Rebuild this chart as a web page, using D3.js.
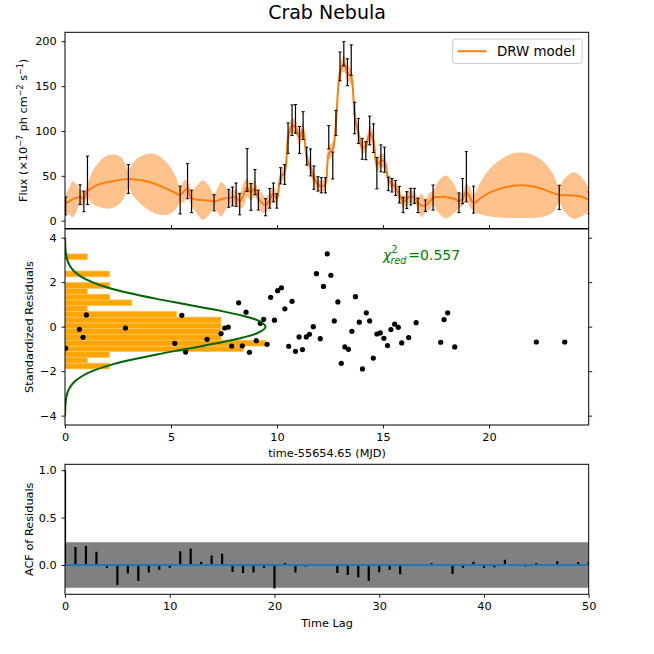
<!DOCTYPE html>
<html>
<head>
<meta charset="utf-8">
<script src="https://cdn.jsdelivr.net/npm/d3@7"></script>
<style>
  body { margin: 0; background: #fff; }
  svg { display: block; font-family: "DejaVu Sans", sans-serif; }
</style>
</head>
<body>
<svg id="chart" width="654" height="654"></svg>
<script>
// light curve points (time-55654.65, flux, 1 sigma error)
var fluxTime = [0.03,0.71,0.89,1.06,2.99,5.43,5.78,5.97,7.03,7.72,7.90,8.07,8.24,8.59,8.77,8.96,9.12,9.46,9.66,9.83,9.99,
    10.17,10.36,10.52,10.71,10.87,11.06,11.23,11.40,11.58,11.74,11.93,12.09,12.28,12.44,12.63,12.78,12.97,13.15,13.32,13.50,
    13.66,13.84,14.02,14.19,14.37,14.55,14.71,14.90,15.07,15.25,15.42,15.59,15.77,15.95,16.12,16.31,16.48,16.65,17.00,17.36,
    18.58,18.75,18.93,19.27,23.31,24.72]
var fluxVal = [16.5,29,21.5,45,46.5,23,44,21.5,20,25,27,29,18.5,56.5,26.5,43,23,15,25,31.5,22,
    50,51.5,92,112,113.5,90,106,72,65,48,41,39.5,39.5,93,61.5,109,172,186,165.5,179,
    114.5,100,80,78,100.5,92,53,69.5,68,41,39.5,36.5,29,17.5,23,26.8,27.7,17,16.6,25.8,
    20,33,49,23.5,26,20]
var fluxErr = [10,11,11.5,27,16,15.5,19.5,12.5,9,10,10.5,13,12,24,15,14,11,9.5,11,10.5,8,
    9,11,17,17,16,15,15.5,10,15,13,8,8.5,8.5,13,15,14,16,13.5,15,17,
    17.5,14,11.5,10,16,16,17.5,15,14,7.5,7.5,8.3,9.3,8.5,9.3,9.3,8.3,8,6.5,14,
    11,14,28,15,13.5,12]

// DRW model: mean and half width of the shaded band
var modelTime = [0.03,0.20,0.37,0.55,0.71,0.80,0.89,1.06,1.30,1.60,2.10,2.60,2.85,2.99,3.20,3.60,4.20,4.80,5.20,5.43,5.60,5.78,5.97,
    6.20,6.50,6.80,7.03,7.20,7.37,7.55,7.72,7.90,8.07,8.24,8.42,8.59,8.77,8.96,9.12,9.29,9.46,9.66,9.83,9.99,
    10.17,10.36,10.52,10.71,10.87,11.06,11.23,11.40,11.58,11.74,11.93,12.09,12.28,12.44,12.63,12.78,12.97,13.15,13.32,13.50,
    13.66,13.84,14.02,14.19,14.37,14.55,14.71,14.90,15.07,15.25,15.42,15.59,15.77,15.95,16.12,16.31,16.48,16.65,16.82,17.00,
    17.18,17.36,17.60,17.97,18.35,18.58,18.75,18.93,19.10,19.27,19.60,20.00,20.50,21.00,21.50,22.00,22.50,23.00,23.31,
    23.50,24.00,24.45,24.72]
var modelMean = [19.5,21.5,24,25.5,26.5,25.5,24.5,33,37,40.5,43.5,45.5,46.3,46.5,46.3,45,41.5,35.5,31,28.5,32.5,36,25,
    23.5,23,22.5,21.5,22.5,24,25,25.5,26,26,21,29,37,31.5,36,25,20,17.5,23.5,30,24,
    49,54,92,106,104.5,92,101,70,60,47,40.5,38,41,75,80,110,165,175,165,160,
    117,98,82,83,98,89,62,67,66,46,41,37,29,21,24.5,27,25.5,19.5,17,17,
    21,25.5,26.5,26.5,24.5,22,24,32,26,19.5,25,31,35.5,38.5,39.5,38.5,35.5,31,28.5,
    28.3,28,26,23]
var modelHalf = [10,15,20,15,7,9,7.5,8,18,25,30,26,17,10,18,27,33,29,19,9,12,9,8.5,
    15,22,16,8,14,19.5,14,8,8,8.5,8,13,10,9,9,8,11,8,8,7.5,7,
    7,7.5,8,8,8,8,8,6.5,7.5,7.5,6,6,6.5,8,8,8,9,9,9,9,
    9,8,7,7,8,8,8,7.5,7.5,6,6,6,6.5,6.5,7,7,7,7,13,7,
    10,8,17,24,16,8,8,9,11,9,18,26,32,35.5,36.5,35.5,31.5,22,9,
    17,26,20,12]

// standardized residuals (as plotted)
var residTime = [0.03,0.68,0.85,1.01,2.85,5.18,5.51,5.69,6.70,7.36,7.53,7.70,7.86,8.19,8.36,8.54,8.70,9.02,9.21,9.37,9.53,
    9.70,9.88,10.03,10.21,10.37,10.55,10.71,10.87,11.04,11.20,11.38,11.53,11.71,11.86,12.04,12.19,12.37,12.54,12.70,12.87,
    13.03,13.20,13.37,13.53,13.70,13.88,14.03,14.21,14.37,14.54,14.71,14.87,15.04,15.21,15.37,15.55,15.72,15.88,16.21,16.56,
    17.72,17.88,18.05,18.38,22.23,23.57]
var residVal = [-0.97,-0.12,-0.48,0.53,-0.06,-0.75,0.51,-1.14,-0.57,-0.31,-0.06,-0.02,-0.87,1.07,-0.86,0.65,-1.15,-0.63,0.15,0.33,-0.79,
    1.32,0.29,1.62,1.75,0.80,-0.88,1.14,-1.11,-0.46,-1.03,-0.46,-0.34,0.0,2.38,-0.54,1.81,3.27,2.31,0.26,1.11,
    -1.65,-0.91,-1.02,-0.21,1.35,0.20,-1.90,0.62,0.26,-1.41,-0.33,-0.28,-0.52,-0.85,-0.13,0.11,-0.03,-0.73,-0.49,0.18,
    -0.70,0.32,0.62,-0.91,-0.69,-0.69]

// histogram of residuals
var histEdges = [-1.90,-1.64,-1.38,-1.12,-0.87,-0.61,-0.35,-0.09,0.17,0.43,0.69,0.95,1.20,1.46,1.72,1.98,2.24,2.50,2.75,3.01,3.27]
var histCounts = [2,1,2,8,9,7,7,7,7,5,1,3,2,1,2,0,2,0,0,1]

// normal curve drawn over the histogram (in count units)
var gaussR = [-4.0,-3.5,-3.25,-3.0,-2.75,-2.5,-2.25,-2.0,-1.75,-1.5,-1.25,-1.0,-0.75,-0.5,-0.25,0,
    0.25,0.5,0.75,1.0,1.25,1.5,1.75,2.0,2.25,2.5,2.75,3.0,3.25,3.5,4.0]
var gaussCount = [0.003,0.02,0.046,0.10,0.21,0.40,0.72,1.22,1.94,2.92,4.12,5.46,6.79,7.94,8.72,9.0,
    8.72,7.94,6.79,5.46,4.12,2.92,1.94,1.22,0.72,0.40,0.21,0.10,0.046,0.02,0.003]

// autocorrelation of residuals, lags 0..50
var acfVal = [1.0,0.19,0.20,0.14,-0.03,-0.21,-0.09,-0.17,-0.08,-0.05,-0.03,0.146,0.174,0.035,0.10,0.118,-0.073,-0.084,-0.08,-0.03,
    -0.247,0.02,-0.08,-0.017,0.0,0.005,-0.084,-0.105,-0.13,-0.17,-0.077,-0.05,-0.098,0.01,0.0,0.02,0.01,-0.094,-0.03,0.035,
    -0.03,-0.025,0.056,0.0,-0.015,0.02,0.0,0.04,0.0,0.03,0.03]
var acfBand = 0.24

var chiText = "=0.557"

const L = 65, R = 588.7
const ORANGE = "#ff7f0e"
const FONT = 11.3

var svg = d3.select("#chart")

var xT = d3.scaleLinear().domain([0, 24.70]).range([L, R])
var yF = d3.scaleLinear().domain([-8.7, 210]).range([228.5, 32.3])
var yR = d3.scaleLinear().domain([-4.42, 4.39]).range([425, 229])
var xC = d3.scaleLinear().domain([0, 23.5]).range([L, R])
var xL = d3.scaleLinear().domain([0, 50]).range([L, R])
var yA = d3.scaleLinear().domain([-0.309, 1.062]).range([594.3, 464.3])

function styleAxis(g){
    g.select(".domain").remove()
    g.attr("font-family", "DejaVu Sans").attr("font-size", FONT)
    g.selectAll(".tick line").attr("stroke", "#000").attr("stroke-width", 0.9)
    g.selectAll(".tick text").attr("fill", "#000")
}

function frame(y0, y1){
    svg.append("rect")
        .attr("x", L).attr("y", y0)
        .attr("width", R - L).attr("height", y1 - y0)
        .attr("fill", "none").attr("stroke", "#000").attr("stroke-width", 1)
}

function clip(id, y0, y1){
    svg.append("clipPath").attr("id", id)
        .append("rect").attr("x", L).attr("y", y0).attr("width", R - L).attr("height", y1 - y0)
}

// ---------- top panel: light curve ----------
clip("clipTop", 32.3, 228.5)
var topG = svg.append("g").attr("clip-path", "url(#clipTop)")

var model = modelTime.map((t, i) => ({t: t, m: modelMean[i], h: modelHalf[i]}))

var band = d3.area()
    .x(d => xT(d.t))
    .y0(d => yF(d.m - d.h))
    .y1(d => yF(d.m + d.h))
    .curve(d3.curveCatmullRom.alpha(0.5))
topG.append("path").datum(model)
    .attr("d", band)
    .attr("fill", ORANGE).attr("fill-opacity", 0.48)

var meanLine = d3.line()
    .x(d => xT(d.t))
    .y(d => yF(d.m))
    .curve(d3.curveCatmullRom.alpha(0.5))
topG.append("path").datum(model)
    .attr("d", meanLine)
    .attr("fill", "none").attr("stroke", ORANGE).attr("stroke-width", 2)

var pts = fluxTime.map((t, i) => ({t: t, f: fluxVal[i], e: fluxErr[i]}))
var eb = topG.selectAll(".eb").data(pts).join("g").attr("class", "eb")
eb.append("line")
    .attr("x1", d => xT(d.t)).attr("x2", d => xT(d.t))
    .attr("y1", d => yF(d.f - d.e)).attr("y2", d => yF(d.f + d.e))
    .attr("stroke", "#000").attr("stroke-width", 1.2)
eb.append("line")
    .attr("x1", d => xT(d.t) - 1.6).attr("x2", d => xT(d.t) + 1.6)
    .attr("y1", d => yF(d.f - d.e)).attr("y2", d => yF(d.f - d.e))
    .attr("stroke", "#000").attr("stroke-width", 1)
eb.append("line")
    .attr("x1", d => xT(d.t) - 1.6).attr("x2", d => xT(d.t) + 1.6)
    .attr("y1", d => yF(d.f + d.e)).attr("y2", d => yF(d.f + d.e))
    .attr("stroke", "#000").attr("stroke-width", 1)

svg.append("g").attr("transform", "translate(" + L + ",0)")
    .call(d3.axisLeft(yF).tickValues([0, 50, 100, 150, 200]).tickSize(3.5).tickPadding(4.8))
    .call(styleAxis)
// ticks of the shared time axis
svg.append("g").attr("transform", "translate(0,228.5)")
    .call(d3.axisTop(xT).tickValues([5, 10, 15, 20]).tickSize(3.5).tickFormat(""))
    .call(styleAxis)
frame(32.3, 228.5)

// legend
var leg = svg.append("g")
leg.append("rect")
    .attr("x", 452.7).attr("y", 39).attr("width", 129.3).attr("height", 24.5).attr("rx", 2.5)
    .attr("fill", "#fff").attr("fill-opacity", 0.8)
    .attr("stroke", "#cccccc").attr("stroke-width", 1)
leg.append("line")
    .attr("x1", 457.5).attr("x2", 486.5).attr("y1", 51.2).attr("y2", 51.2)
    .attr("stroke", ORANGE).attr("stroke-width", 2)
leg.append("text")
    .attr("x", 497).attr("y", 55.8)
    .attr("font-size", 13.4).attr("fill", "#000")
    .text("DRW model")

svg.append("text")
    .attr("x", 327).attr("y", 18.5)
    .attr("text-anchor", "middle").attr("font-size", 19).attr("fill", "#000")
    .text("Crab Nebula")

var fluxLabel = svg.append("text")
    .attr("transform", "translate(27,130.4) rotate(-90)")
    .attr("text-anchor", "middle").attr("font-size", FONT).attr("fill", "#000")
fluxLabel.append("tspan").text("Flux (×10")
fluxLabel.append("tspan").attr("dy", -4.5).attr("font-size", 8).text("−7")
fluxLabel.append("tspan").attr("dy", 4.5).text(" ph cm")
fluxLabel.append("tspan").attr("dy", -4.5).attr("font-size", 8).text("−2")
fluxLabel.append("tspan").attr("dy", 4.5).text(" s")
fluxLabel.append("tspan").attr("dy", -4.5).attr("font-size", 8).text("−1")
fluxLabel.append("tspan").attr("dy", 4.5).text(")")

// ---------- middle panel: residuals ----------
clip("clipMid", 229, 425)
var midG = svg.append("g").attr("clip-path", "url(#clipMid)")

var bins = histCounts.map((c, i) => ({lo: histEdges[i], hi: histEdges[i + 1], c: c}))
midG.selectAll(".hbar").data(bins.filter(d => d.c > 0)).join("rect")
    .attr("class", "hbar")
    .attr("x", xC(0))
    .attr("y", d => yR(d.hi))
    .attr("width", d => xC(d.c) - xC(0))
    .attr("height", d => yR(d.lo) - yR(d.hi))
    .attr("fill", "#ffa500")
    .attr("stroke", "#ffc45c").attr("stroke-width", 0.8)

midG.selectAll(".res").data(residTime).join("circle")
    .attr("class", "res")
    .attr("cx", d => xT(d))
    .attr("cy", (d, i) => yR(residVal[i]))
    .attr("r", 2.6)
    .attr("fill", "#000")

var gauss = d3.line()
    .x((d, i) => xC(gaussCount[i]))
    .y(d => yR(d))
    .curve(d3.curveCatmullRom.alpha(0.5))
midG.append("path").datum(gaussR)
    .attr("d", gauss)
    .attr("fill", "none").attr("stroke", "#006400").attr("stroke-width", 2)

svg.append("g").attr("transform", "translate(" + L + ",0)")
    .call(d3.axisLeft(yR).tickValues([-4, -2, 0, 2, 4]).tickSize(3.5).tickPadding(4.8))
    .call(styleAxis)
svg.append("g").attr("transform", "translate(" + R + ",0)")
    .call(d3.axisRight(yR).tickValues([-4, -2, 0, 2, 4]).tickSize(3.5).tickFormat(""))
    .call(styleAxis)
svg.append("g").attr("transform", "translate(0,425)")
    .call(d3.axisBottom(xT).tickValues([0, 5, 10, 15, 20]).tickSize(3.5).tickPadding(4.5))
    .call(styleAxis)
frame(229, 425)

var chi = svg.append("g").attr("fill", "green")
chi.append("text").attr("x", 383).attr("y", 260).attr("font-size", 14).attr("font-style", "italic").text("χ")
chi.append("text").attr("x", 391.5).attr("y", 253.3).attr("font-size", 9.6).text("2")
chi.append("text").attr("x", 390.5).attr("y", 264).attr("font-size", 9.6).attr("font-style", "italic").text("red")
chi.append("text").attr("x", 408.3).attr("y", 260).attr("font-size", 14).text(chiText)

svg.append("text")
    .attr("transform", "translate(33,327) rotate(-90)")
    .attr("text-anchor", "middle").attr("font-size", FONT).attr("fill", "#000")
    .text("Standardized Residuals")
svg.append("text")
    .attr("x", 327).attr("y", 456.5)
    .attr("text-anchor", "middle").attr("font-size", FONT).attr("fill", "#000")
    .text("time-55654.65 (MJD)")

// ---------- bottom panel: ACF ----------
clip("clipBot", 464.3, 594.3)
var botG = svg.append("g").attr("clip-path", "url(#clipBot)")

botG.append("rect")
    .attr("x", xL(0)).attr("y", yA(acfBand))
    .attr("width", xL(50) - xL(0)).attr("height", yA(-acfBand) - yA(acfBand))
    .attr("fill", "#808080")

botG.selectAll(".acf").data(acfVal).join("line")
    .attr("class", "acf")
    .attr("x1", (d, i) => xL(i)).attr("x2", (d, i) => xL(i))
    .attr("y1", yA(0)).attr("y2", d => yA(d))
    .attr("stroke", "#000").attr("stroke-width", 2.2)

botG.append("line")
    .attr("x1", xL(0)).attr("x2", xL(50))
    .attr("y1", yA(0)).attr("y2", yA(0))
    .attr("stroke", "#1f77b4").attr("stroke-width", 2)

svg.append("g").attr("transform", "translate(" + L + ",0)")
    .call(d3.axisLeft(yA).tickValues([0, 0.5, 1.0]).tickFormat(d3.format(".1f")).tickSize(3.5).tickPadding(4.8))
    .call(styleAxis)
svg.append("g").attr("transform", "translate(0,594.3)")
    .call(d3.axisBottom(xL).tickValues([0, 10, 20, 30, 40, 50]).tickSize(3.5).tickPadding(4.5))
    .call(styleAxis)
frame(464.3, 594.3)

svg.append("text")
    .attr("transform", "translate(33,529.3) rotate(-90)")
    .attr("text-anchor", "middle").attr("font-size", FONT).attr("fill", "#000")
    .text("ACF of Residuals")
svg.append("text")
    .attr("x", 327).attr("y", 626.5)
    .attr("text-anchor", "middle").attr("font-size", FONT).attr("fill", "#000")
    .text("Time Lag")
</script>
</body>
</html>
